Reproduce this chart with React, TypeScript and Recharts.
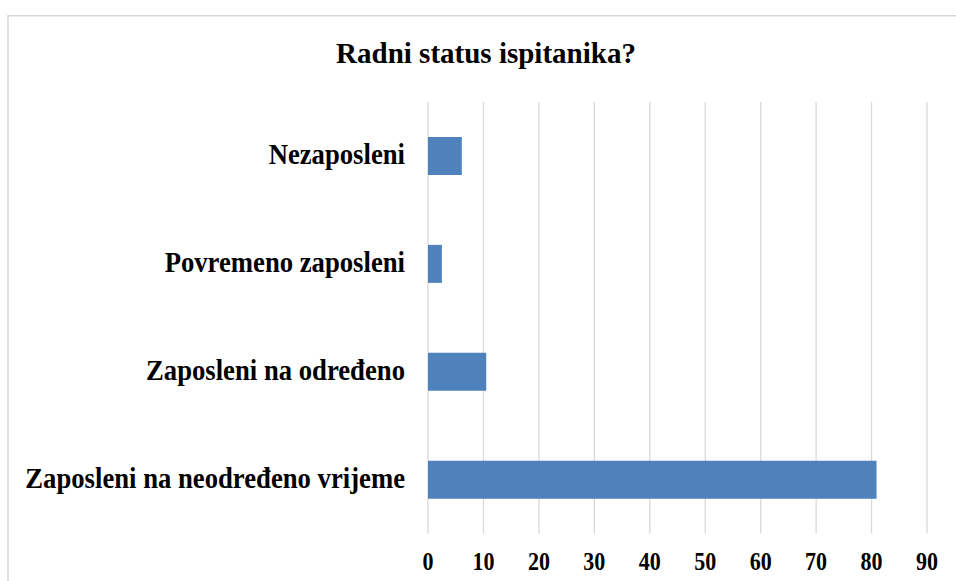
import React from 'react';
import { BarChart, Bar, XAxis, YAxis, CartesianGrid } from 'recharts';

const categories = [
  'Nezaposleni',
  'Povremeno zaposleni',
  'Zaposleni na određeno',
  'Zaposleni na neodređeno vrijeme',
];
const values = [6.1, 2.5, 10.5, 80.9];
const xTicks = [0, 10, 20, 30, 40, 50, 60, 70, 80, 90];
const title = 'Radni status ispitanika?';

const data = categories.map((c, i) => ({ name: c, value: values[i] }));

const FONT = '"Liberation Serif", "Times New Roman", serif';

const YTick = (props: any) => {
  const { x, y, payload } = props;
  return (
    <text
      x={0}
      y={0}
      transform={`translate(${x},${y + 8.5}) scale(1,1.12)`}
      textAnchor="end"
      fontFamily={FONT}
      fontWeight="bold"
      fontSize={26.7}
      fill="#000"
    >
      {payload.value}
    </text>
  );
};

const XTick = (props: any) => {
  const { x, y, payload } = props;
  return (
    <text
      x={0}
      y={0}
      transform={`translate(${x},${y + 36}) scale(1,1.16)`}
      textAnchor="middle"
      fontFamily={FONT}
      fontWeight="bold"
      fontSize={22}
      fill="#000"
    >
      {payload.value}
    </text>
  );
};

export default function App() {
  return (
    <div style={{ position: 'relative', width: 956, height: 581, overflow: 'hidden', background: '#fff' }}>
      <style>{'html,body{margin:0;padding:0;}'}</style>
      <svg
        width={956}
        height={581}
        style={{ position: 'absolute', left: 0, top: 0, display: 'block' }}
      >
        <path d="M8,581 L8,15.75 L956,15.75" fill="none" stroke="#d9d9d9" strokeWidth={1.5} />
      </svg>
      <div
        style={{
          position: 'absolute',
          left: 186,
          top: 35,
          width: 600,
          textAlign: 'center',
          fontFamily: FONT,
          fontWeight: 'bold',
          fontSize: 29,
          lineHeight: '36px',
          color: '#000',
        }}
      >
        {title}
      </div>
      <div style={{ position: 'absolute', left: 0, top: 0 }}>
        <BarChart
          width={956}
          height={581}
          data={data}
          layout="vertical"
          margin={{ top: 102, right: 29, bottom: 0, left: 0 }}
        >
          <CartesianGrid horizontal={false} stroke="#d9d9d9" strokeWidth={1.3} />
          <XAxis
            type="number"
            domain={[0, 90]}
            ticks={xTicks}
            interval={0}
            axisLine={false}
            tickLine={false}
            tickSize={0}
            tickMargin={0}
            height={47.5}
            tick={<XTick />}
          />
          <YAxis
            type="category"
            dataKey="name"
            width={428}
            axisLine={false}
            tickLine={false}
            tickSize={0}
            tickMargin={23}
            interval={0}
            tick={<YTick />}
          />
          <Bar dataKey="value" fill="#4f81bd" barSize={38} isAnimationActive={false} />
        </BarChart>
      </div>
    </div>
  );
}
